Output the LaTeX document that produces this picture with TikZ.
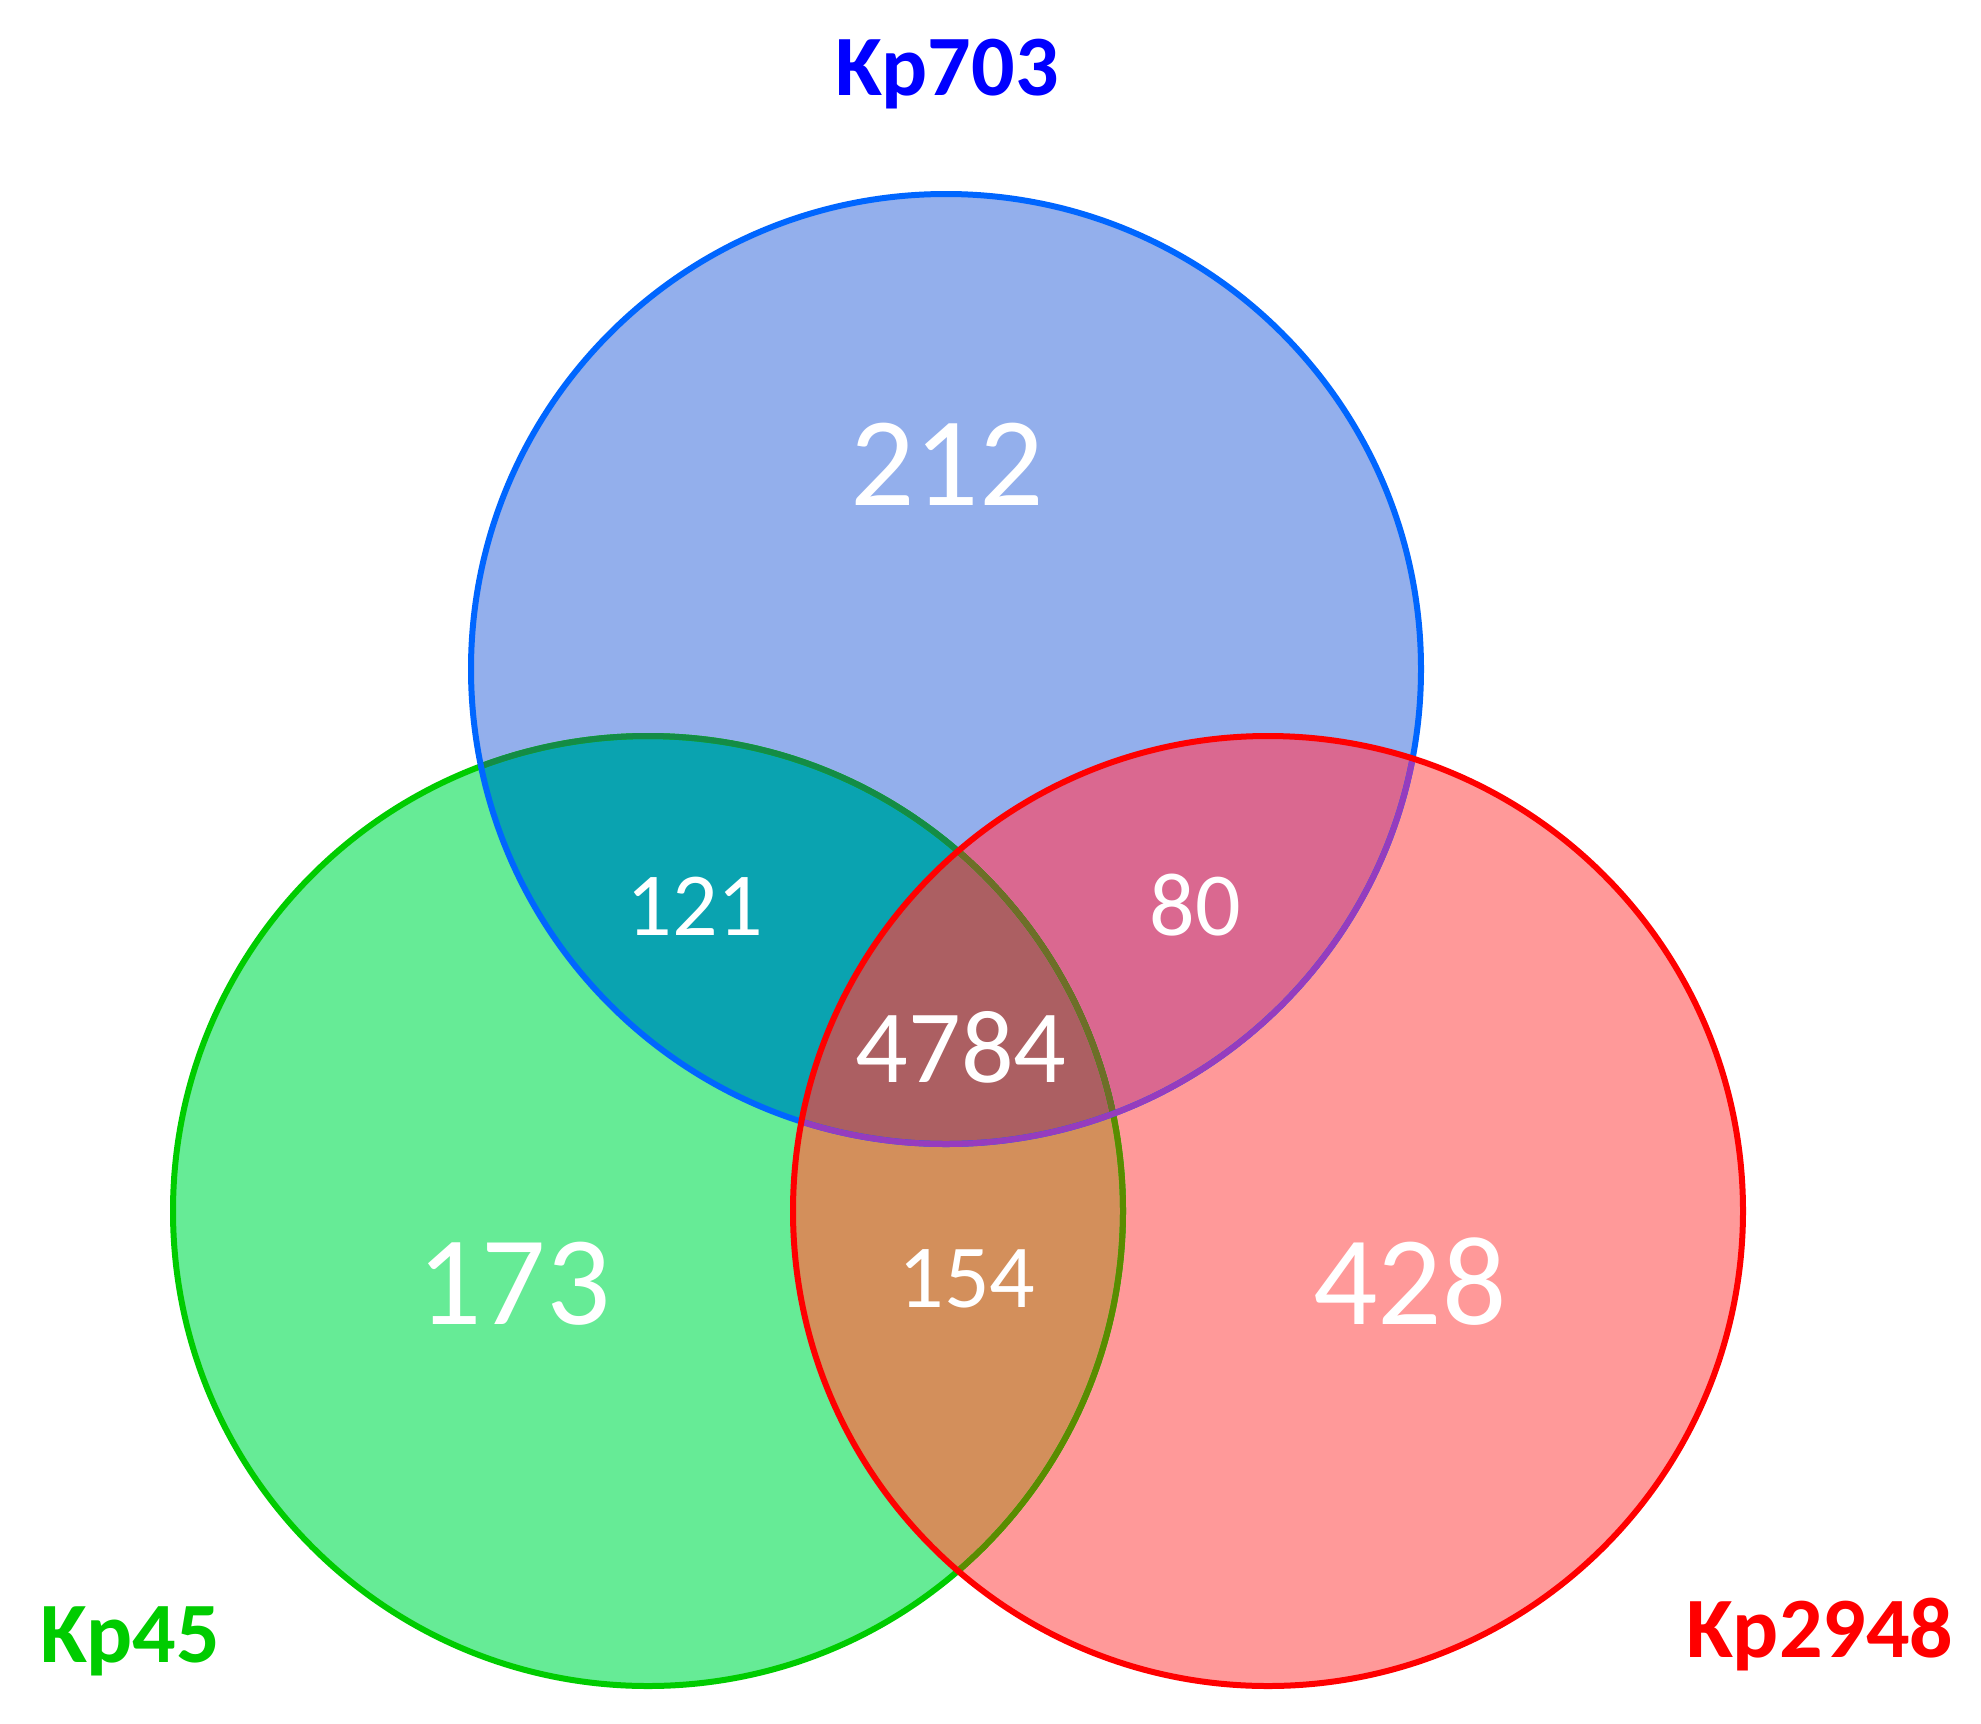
\documentclass[tikz,border=0pt]{standalone}
\usepackage{fontspec}
\setmainfont{Carlito}
\definecolor{bfill}{RGB}{147,175,236}
\definecolor{gfill}{RGB}{102,235,150}
\definecolor{rfill}{RGB}{255,153,153}
\definecolor{bgfill}{RGB}{10,163,176}
\definecolor{brfill}{RGB}{218,104,144}
\definecolor{grfill}{RGB}{211,143,91}
\definecolor{allfill}{RGB}{172,95,98}
\definecolor{bline}{RGB}{0,102,255}
\definecolor{gline}{RGB}{0,204,0}
\definecolor{rline}{RGB}{255,0,0}
\definecolor{glineb}{RGB}{20,140,70}
\definecolor{gliner}{RGB}{90,140,0}
\definecolor{glinebr}{RGB}{110,110,40}
\definecolor{blinr}{RGB}{150,60,190}
\definecolor{labblue}{RGB}{0,0,255}
\definecolor{labgreen}{RGB}{0,204,0}
\definecolor{labred}{RGB}{255,0,0}
\tikzset{
  setlabel/.style={font=\fontsize{86}{90}\selectfont\bfseries, anchor=base, inner sep=0pt},
  bignum/.style={text=white, font=\fontsize{127}{130}\selectfont, anchor=base, inner sep=0pt},
  midnum/.style={text=white, font=\fontsize{104}{110}\selectfont, anchor=base, inner sep=0pt},
  smallnum/.style={text=white, font=\fontsize{90}{95}\selectfont, anchor=base, inner sep=0pt},
  ring/.style={line width=6pt},
}
\begin{document}
\begin{tikzpicture}[x=1pt,y=-1pt]
\useasboundingbox (0,0) rectangle (1981,1724);
\fill[white] (0,0) rectangle (1981,1724);
\coordinate (cB) at (946,669);
\coordinate (cG) at (648,1211);
\coordinate (cR) at (1268,1211);
\def\rr{475pt}
% base fills
\fill[gfill] (cG) circle[radius=\rr];
\fill[bfill] (cB) circle[radius=\rr];
\fill[rfill] (cR) circle[radius=\rr];
% pairwise overlaps
\begin{scope}
  \clip (cB) circle[radius=\rr];
  \fill[bgfill] (cG) circle[radius=\rr];
  \fill[brfill] (cR) circle[radius=\rr];
\end{scope}
\begin{scope}
  \clip (cG) circle[radius=\rr];
  \fill[grfill] (cR) circle[radius=\rr];
\end{scope}
\begin{scope}
  \clip (cB) circle[radius=\rr];
  \clip (cG) circle[radius=\rr];
  \fill[allfill] (cR) circle[radius=\rr];
\end{scope}
% green outline
\draw[ring, gline] (cG) circle[radius=\rr];
\begin{scope}
  \clip (cB) circle[radius=\rr];
  \draw[ring, glineb] (cG) circle[radius=\rr];
\end{scope}
\begin{scope}
  \clip (cR) circle[radius=\rr];
  \draw[ring, gliner] (cG) circle[radius=\rr];
\end{scope}
\begin{scope}
  \clip (cB) circle[radius=\rr];
  \clip (cR) circle[radius=\rr];
  \draw[ring, glinebr] (cG) circle[radius=\rr];
\end{scope}
% blue outline
\draw[ring, bline] (cB) circle[radius=\rr];
\begin{scope}
  \clip (cR) circle[radius=\rr];
  \draw[ring, blinr] (cB) circle[radius=\rr];
\end{scope}
% red outline
\draw[ring, rline] (cR) circle[radius=\rr];
% labels
\node[setlabel, text=labblue] (lB) at (947,95) {Kp703};
\node[setlabel, text=labgreen] (lG) at (130,1662) {Kp45};
\node[setlabel, text=labred] (lR) at (1820,1657) {Kp2948};
% counts
\node[bignum] (n212) at (947,505) {212};
\node[bignum] (n173) at (514,1324) {173};
\node[bignum] (n428) at (1410,1324) {428};
\node[midnum] (n4784) at (961,1082) {4784};
\node[smallnum] (n121) at (695,935) {121};
\node[smallnum] (n80) at (1195,935) {80};
\node[smallnum] (n154) at (967,1307) {154};
\end{tikzpicture}
\end{document}
